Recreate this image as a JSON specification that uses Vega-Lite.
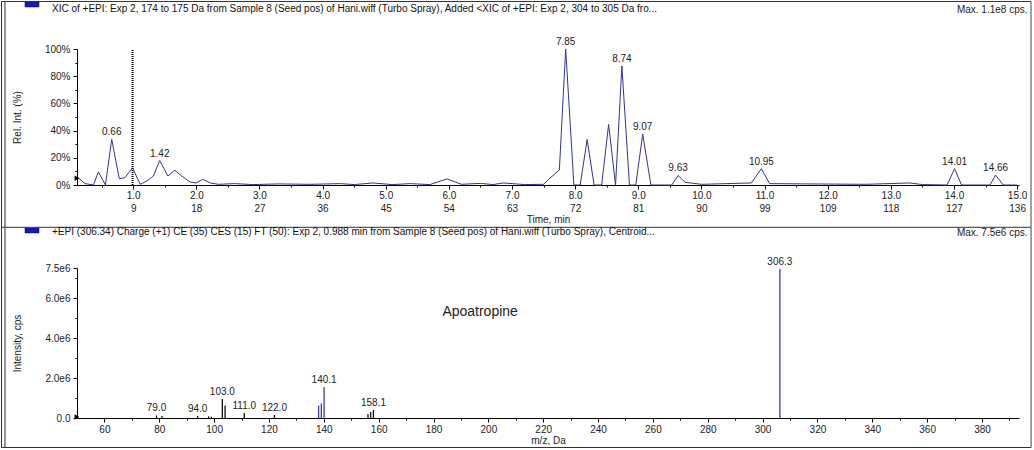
{
  "$schema": "https://vega.github.io/schema/vega-lite/v6.json",
  "background": "white",
  "padding": {"left": 1, "top": 0, "right": 1, "bottom": 1},
  "spacing": -2,
  "config": {
    "font": "Liberation Sans",
    "view": {"stroke": null},
    "axis": {
      "labelFont": "Liberation Sans", "labelFontSize": 10, "labelColor": "#222",
      "titleFont": "Liberation Sans", "titleFontSize": 10, "titleFontWeight": "normal", "titleColor": "#222",
      "domainColor": "#000", "tickColor": "#000", "grid": false,
      "labelOverlap": false, "labelFlush": false, "labelBound": false
    },
    "title": {"font": "Liberation Sans", "fontSize": 10, "fontWeight": "normal", "color": "#111", "anchor": "start", "frame": "group"}
  },
  "vconcat": [
    {
      "width": 942, "height": 136,
      "title": {"text": "XIC of +EPI: Exp 2, 174 to 175 Da from Sample 8 (Seed pos) of Hani.wiff (Turbo Spray), Added <XIC of +EPI: Exp 2, 304 to 305 Da fro...", "dx": -25, "offset": -13},
      "data": {"values": [
        {"t":0.11,"pct":6},{"t":0.24,"pct":1},{"t":0.37,"pct":0},{"t":0.45,"pct":9.6},{"t":0.56,"pct":0},
        {"t":0.66,"pct":33.5,"label":"0.66"},{"t":0.78,"pct":4.6},{"t":0.87,"pct":5.4},{"t":0.99,"pct":12.7},
        {"t":1.11,"pct":0.5},{"t":1.22,"pct":3},{"t":1.32,"pct":6.6},{"t":1.42,"pct":18,"label":"1.42"},
        {"t":1.55,"pct":6.6},{"t":1.66,"pct":10.8},{"t":1.77,"pct":6.6},{"t":1.9,"pct":2.2},{"t":2.0,"pct":1.5},
        {"t":2.1,"pct":4.2},{"t":2.22,"pct":1.5},{"t":2.35,"pct":0.5},{"t":2.6,"pct":1},{"t":2.9,"pct":0.3},
        {"t":3.3,"pct":0.8},{"t":3.8,"pct":0.5},{"t":4.28,"pct":1},{"t":4.5,"pct":0.3},{"t":4.8,"pct":1.5},
        {"t":5.1,"pct":0.3},{"t":5.39,"pct":1},{"t":5.7,"pct":0.3},{"t":5.97,"pct":4.5},{"t":6.2,"pct":0.5},
        {"t":6.5,"pct":1.2},{"t":6.7,"pct":0.3},{"t":6.86,"pct":1.5},{"t":7.2,"pct":0.3},{"t":7.5,"pct":0.5},
        {"t":7.6,"pct":5},{"t":7.75,"pct":11},{"t":7.85,"pct":100,"label":"7.85"},{"t":7.98,"pct":0},
        {"t":8.08,"pct":0},{"t":8.19,"pct":33.5},{"t":8.3,"pct":0},{"t":8.42,"pct":0},{"t":8.53,"pct":44.5},
        {"t":8.64,"pct":0},{"t":8.74,"pct":87.5,"label":"8.74"},{"t":8.86,"pct":0},{"t":8.96,"pct":0},
        {"t":9.07,"pct":37.3,"label":"9.07"},{"t":9.2,"pct":0},{"t":9.53,"pct":0},{"t":9.63,"pct":7,"label":"9.63"},
        {"t":9.74,"pct":2},{"t":10.0,"pct":0.5},{"t":10.79,"pct":1.5},{"t":10.95,"pct":12,"label":"10.95"},
        {"t":11.08,"pct":1},{"t":12.6,"pct":0.5},{"t":13.3,"pct":1.5},{"t":13.5,"pct":0.3},{"t":13.89,"pct":0},
        {"t":14.01,"pct":12,"label":"14.01"},{"t":14.12,"pct":0},{"t":14.57,"pct":0},{"t":14.66,"pct":7.3,"label":"14.66"},
        {"t":14.78,"pct":0},{"t":15.0,"pct":0}
      ]},
      "resolve": {"scale": {"x": "independent"}},
      "layer": [
        {
          "layer": [
            {
              "mark": {"type": "line", "color": "#33338f", "strokeWidth": 1},
              "encoding": {
                "x": {"field": "t", "type": "quantitative", "scale": {"domain": [0.11, 15.03], "nice": false, "zero": false},
                  "axis": {
                    "values": [0.5,1,1.5,2,2.5,3,3.5,4,4.5,5,5.5,6,6.5,7,7.5,8,8.5,9,9.5,10,10.5,11,11.5,12,12.5,13,13.5,14,14.5,15],
                    "tickCount": 100,
                    "labelExpr": "datum.value % 1 == 0 ? [format(datum.value, '.1f'), ['','9','18','27','36','45','54','63','72','81','90','99','109','118','127','136'][datum.value]] : ''",
                    "tickSize": {"condition": {"test": "datum.value % 1 != 0", "value": 2}, "value": 4},
                    "labelOverlap": false,
                    "labelPadding": 1, "labelLineHeight": 13, "title": "Time, min", "titlePadding": 1
                  }},
                "y": {"field": "pct", "type": "quantitative", "scale": {"domain": [0, 100], "nice": false},
                  "axis": {
                    "values": [0,10,20,30,40,50,60,70,80,90,100],
                    "tickCount": 100,
                    "labelExpr": "datum.value % 20 == 0 ? datum.value + '%' : ''",
                    "tickSize": {"condition": {"test": "datum.value % 20 != 0", "value": 2}, "value": 4},
                    "labelOverlap": false,
                    "labelPadding": 3, "title": "Rel. Int. (%)", "titlePadding": 22
                  }}
              }
            },
            {
              "data": {"values": [{}]},
              "mark": {"type": "rule", "color": "#000", "strokeWidth": 2, "strokeDash": [1, 1]},
              "encoding": {"x": {"datum": 0.99}, "y": {"datum": 0}, "y2": {"datum": 100}}
            },
            {
              "data": {"values": [{}]},
              "mark": {"type": "point", "shape": "triangle-right", "filled": true, "color": "#000", "size": 30, "opacity": 1},
              "encoding": {"x": {"datum": 0.11}, "y": {"datum": 5}}
            },
            {
              "data": {"values": [{}]},
              "mark": {"type": "rect", "color": "#1a1ab4", "stroke": "#000066", "strokeWidth": 0.5},
              "encoding": {"x": {"datum": -0.714}, "x2": {"datum": -0.492}, "y": {"datum": 134.6}, "y2": {"datum": 130.9}}
            },
            {
              "data": {"values": [{}]},
              "mark": {"type": "rule", "color": "#333", "strokeWidth": 1},
              "encoding": {"x": {"datum": -1.0858}, "x2": {"datum": 15.2202}, "y": {"datum": 134.93}}
            },
            {
              "data": {"values": [{}]},
              "mark": {"type": "rule", "color": "#333", "strokeWidth": 1},
              "encoding": {"x": {"datum": -1.0858}, "y": {"datum": 134.93}, "y2": {"datum": -30.9}}
            },
            {
              "data": {"values": [{}]},
              "mark": {"type": "rule", "color": "#333", "strokeWidth": 1},
              "encoding": {"x": {"datum": -1.0304}, "y": {"datum": 134.93}, "y2": {"datum": -30.9}}
            },
            {
              "data": {"values": [{}]},
              "mark": {"type": "rule", "color": "#444", "strokeWidth": 1},
              "encoding": {"x": {"datum": 15.2202}, "y": {"datum": 134.93}, "y2": {"datum": -30.9}}
            }
          ]
        },
        {
          "transform": [{"filter": "datum.label != null"}],
          "mark": {"type": "text", "fontSize": 10, "color": "#222", "dy": -7, "baseline": "middle"},
          "encoding": {
            "x": {"field": "t", "type": "quantitative", "scale": {"domain": [0.11, 15.03], "nice": false, "zero": false},
              "axis": {"orient": "top", "labels": false, "ticks": false, "domain": false, "title": "Max. 1.1e8 cps.",
                "titleAnchor": "end", "titleAlign": "right", "titleX": 950, "titlePadding": 35}},
            "y": {"field": "pct", "type": "quantitative"},
            "text": {"field": "label"}
          }
        }
      ]
    },
    {
      "width": 942, "height": 150,
      "title": {"text": "+EPI (306.34) Charge (+1) CE (35) CES (15) FT (50): Exp 2, 0.988 min from Sample 8 (Seed pos) of Hani.wiff (Turbo Spray), Centroid...", "dx": -25, "offset": -10},
      "data": {"values": [
        {"mz":79.0,"i":130000,"label":"79.0"},{"mz":81.0,"i":100000},{"mz":94.0,"i":100000,"label":"94.0"},
        {"mz":98.0,"i":80000},{"mz":99.0,"i":60000},{"mz":103.0,"i":950000,"label":"103.0"},{"mz":104.0,"i":620000},
        {"mz":111.0,"i":250000,"label":"111.0"},{"mz":122.0,"i":150000,"label":"122.0"},{"mz":138.1,"i":620000},
        {"mz":139.1,"i":720000},{"mz":140.1,"i":1550000,"label":"140.1"},{"mz":156.1,"i":200000},
        {"mz":157.1,"i":300000},{"mz":158.1,"i":400000,"label":"158.1"},{"mz":306.3,"i":7450000,"label":"306.3"}
      ]},
      "resolve": {"scale": {"x": "independent"}},
      "layer": [
        {
          "layer": [
            {
              "mark": {"type": "rule", "strokeWidth": 1.3},
              "encoding": {
                "x": {"field": "mz", "type": "quantitative", "scale": {"domain": [50, 393.5], "nice": false, "zero": false},
                  "axis": {
                    "values": [60,70,80,90,100,110,120,130,140,150,160,170,180,190,200,210,220,230,240,250,260,270,280,290,300,310,320,330,340,350,360,370,380,390],
                    "tickCount": 100,
                    "labelExpr": "datum.value % 20 == 0 ? datum.value : ''",
                    "tickSize": {"condition": {"test": "datum.value % 20 != 0", "value": 2}, "value": 4},
                    "labelOverlap": false,
                    "labelPadding": 2, "title": "m/z, Da", "titlePadding": 1
                  }},
                "y": {"field": "i", "type": "quantitative", "scale": {"domain": [0, 7500000], "nice": false},
                  "axis": {
                    "values": [0,1000000,2000000,3000000,4000000,5000000,6000000,7000000,7500000],
                    "tickCount": 100,
                    "labelExpr": "datum.value == 0 ? '0.0' : ((datum.value == 7500000 || datum.value % 2000000 == 0) ? format(datum.value / 1000000, '.1f') + 'e6' : '')",
                    "tickSize": {"condition": {"test": "datum.value != 7500000 && datum.value % 2000000 != 0", "value": 2}, "value": 4},
                    "labelOverlap": false,
                    "labelPadding": 3, "title": "Intensity, cps", "titlePadding": 22
                  }},
                "y2": {"datum": 0},
                "color": {"condition": {"test": "(datum.mz > 137 && datum.mz < 141) || datum.mz > 300", "value": "#3b3bb0"}, "value": "#111"}
              }
            },
            {
              "data": {"values": [{}]},
              "mark": {"type": "text", "fontSize": 14, "fontWeight": "normal", "color": "#222"},
              "encoding": {"x": {"datum": 197}, "y": {"datum": 5300000}, "text": {"value": "Apoatropine"}}
            },
            {
              "data": {"values": [{}]},
              "mark": {"type": "point", "shape": "triangle-right", "filled": true, "color": "#000", "size": 30, "opacity": 1},
              "encoding": {"x": {"datum": 50}, "y": {"datum": 50000}}
            },
            {
              "data": {"values": [{}]},
              "mark": {"type": "rect", "color": "#1a1ab4", "stroke": "#000066", "strokeWidth": 0.5},
              "encoding": {"x": {"datum": 31.04}, "x2": {"datum": 36.14}, "y": {"datum": 9500000}, "y2": {"datum": 9250000}}
            },
            {
              "data": {"values": [{}]},
              "mark": {"type": "rule", "color": "#333", "strokeWidth": 1},
              "encoding": {"x": {"datum": 22.47}, "x2": {"datum": 397.9}, "y": {"datum": 9535000}}
            },
            {
              "data": {"values": [{}]},
              "mark": {"type": "rule", "color": "#333", "strokeWidth": 1},
              "encoding": {"x": {"datum": 22.47}, "x2": {"datum": 397.9}, "y": {"datum": -1475000}}
            },
            {
              "data": {"values": [{}]},
              "mark": {"type": "rule", "color": "#333", "strokeWidth": 1},
              "encoding": {"x": {"datum": 22.47}, "y": {"datum": 9535000}, "y2": {"datum": -1475000}}
            },
            {
              "data": {"values": [{}]},
              "mark": {"type": "rule", "color": "#333", "strokeWidth": 1},
              "encoding": {"x": {"datum": 23.74}, "y": {"datum": 9535000}, "y2": {"datum": -1475000}}
            },
            {
              "data": {"values": [{}]},
              "mark": {"type": "rule", "color": "#444", "strokeWidth": 1},
              "encoding": {"x": {"datum": 397.9}, "y": {"datum": 9535000}, "y2": {"datum": -1475000}}
            }
          ]
        },
        {
          "transform": [{"filter": "datum.label != null"}],
          "mark": {"type": "text", "fontSize": 10, "color": "#222", "dy": -7, "baseline": "middle"},
          "encoding": {
            "x": {"field": "mz", "type": "quantitative", "scale": {"domain": [50, 393.5], "nice": false, "zero": false},
              "axis": {"orient": "top", "labels": false, "ticks": false, "domain": false, "title": "Max. 7.5e6 cps.",
                "titleAnchor": "end", "titleAlign": "right", "titleX": 950, "titlePadding": 31}},
            "y": {"field": "i", "type": "quantitative"},
            "text": {"field": "label"}
          }
        }
      ]
    }
  ]
}
